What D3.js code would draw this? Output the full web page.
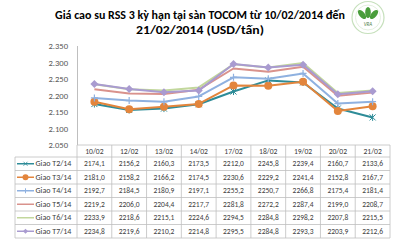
<!DOCTYPE html>
<html><head><meta charset="utf-8">
<script src="https://cdn.jsdelivr.net/npm/d3@7"></script>
<style>
html,body{margin:0;padding:0;background:#fff;}
svg{display:block;font-family:"Carlito","Liberation Sans",Arial,sans-serif;}
</style></head>
<body>
<svg id="c" width="400" height="242"></svg>
<script>
const dates = ["10/02","12/02","13/02","14/02","17/02","18/02","19/02","20/02","21/02"];
const seriesNames = ["Giao T2/14","Giao T3/14","Giao T4/14","Giao T5/14","Giao T6/14","Giao T7/14"];
const t2 = [2174.1,2156.2,2160.3,2173.5,2212.0,2245.8,2239.4,2160.7,2133.6];
const t3 = [2181.0,2158.2,2166.2,2174.5,2230.6,2229.2,2241.4,2152.8,2167.7];
const t4 = [2192.7,2184.5,2180.9,2197.1,2255.2,2250.7,2266.8,2175.4,2181.4];
const t5 = [2219.2,2206.0,2204.4,2217.7,2281.8,2272.2,2287.4,2199.0,2208.7];
const t6 = [2233.9,2218.6,2215.1,2224.6,2294.5,2284.8,2298.2,2207.8,2215.5];
const t7 = [2234.8,2219.6,2210.2,2214.8,2295.5,2284.8,2293.3,2203.9,2212.6];
const yTicks = [2050,2100,2150,2200,2250,2300,2350];
const titleLines = ["Giá cao su RSS 3 kỳ hạn tại sàn TOCOM từ 10/02/2014 đến","21/02/2014 (USD/tấn)"];

const colors = ["#2e8c98","#e3853c","#8fb1e0","#d9928c","#c2d79c","#a99bd0"];
const markers = ["star","circle","plus","none","none","diamond"];
const allSeries = [t2,t3,t4,t5,t6,t7];

const svg = d3.select("#c");
const loc = d3.formatLocale({decimal:",",thousands:".",grouping:[3],currency:["",""]});
const fmtTick = loc.format(",.0f");
const fmtVal = loc.format(".1f");

const L = 77, R = 390, T = 46, B = 145;
const x = d3.scaleBand().domain(dates).range([L,R]).padding(0);
const y = d3.scaleLinear().domain([2050,2350]).range([B,T]);
const cx = d => x(d) + x.bandwidth()/2;

// title
const tl = [{t:titleLines[0],y:19,w:290},{t:titleLines[1],y:34,w:128}];
svg.selectAll("text.title").data(tl).join("text")
  .attr("class","title").attr("x",200).attr("y",d=>d.y)
  .attr("text-anchor","middle").attr("font-weight","bold").attr("font-size",11)
  .attr("fill","#000").attr("textLength",d=>d.w).attr("lengthAdjust","spacingAndGlyphs")
  .text(d=>d.t);

// logo
const logo = svg.append("g").attr("transform","translate(368,17.5)");
logo.append("circle").attr("r",16).attr("fill","#fff").attr("stroke","#c6e0bc").attr("stroke-width",1.2);
logo.append("circle").attr("r",12.5).attr("fill","none").attr("stroke","#dcebd5").attr("stroke-width",0.8);
[[-6,-3,-40],[0,-5,0],[6,-3,40]].forEach(([a,b,r])=>{
  logo.append("ellipse").attr("cx",0).attr("cy",0).attr("rx",2.8).attr("ry",5.5)
    .attr("fill","#4a9d3c").attr("transform",`translate(${a},${b}) rotate(${r})`);
});
logo.append("text").attr("x",0).attr("y",8.5).attr("text-anchor","middle")
  .attr("font-size",5).attr("font-style","italic").attr("fill","#4a7a3c").text("VRA");

// y axis
svg.append("line").attr("x1",L+0.5).attr("x2",L+0.5).attr("y1",T).attr("y2",B)
  .attr("stroke","#bfbfbf").attr("stroke-width",1);
svg.selectAll("text.yt").data(yTicks).join("text").attr("class","yt")
  .attr("x",68).attr("y",d=>y(d)+3).attr("text-anchor","end")
  .attr("font-size",8.6).attr("fill","#595959").text(d=>fmtTick(d));

// lines
const line = d3.line().x((d,i)=>cx(dates[i])).y(d=>y(d));
function drawMarker(g, type, color, px, py){
  if(type==="circle"){
    g.append("circle").attr("cx",px).attr("cy",py).attr("r",4).attr("fill",color);
  } else if(type==="diamond"){
    g.append("path").attr("d",`M${px},${py-4}L${px+4},${py}L${px},${py+4}L${px-4},${py}Z`).attr("fill",color);
  } else if(type==="plus"){
    g.append("path").attr("d",`M${px-3.5},${py}H${px+3.5}M${px},${py-3.5}V${py+3.5}`).attr("stroke",color).attr("stroke-width",1.2);
  } else if(type==="star"){
    g.append("path").attr("d",`M${px-3},${py-3}L${px+3},${py+3}M${px-3},${py+3}L${px+3},${py-3}M${px},${py-3.5}V${py+3.5}`).attr("stroke",color).attr("stroke-width",1);
  }
}
allSeries.forEach((s,k)=>{
  const g = svg.append("g");
  g.append("path").attr("d",line(s)).attr("fill","none").attr("stroke",colors[k])
    .attr("stroke-width",2).attr("stroke-linejoin","round");
  s.forEach((v,i)=>drawMarker(g,markers[k],colors[k],cx(dates[i]),y(v)));
});

// table
const hTop = 145, hBot = 157, rowH = 13.5, legL = 15;
const nRows = seriesNames.length;
const tBot = hBot + rowH*nRows;
const tg = svg.append("g").attr("stroke","#bfbfbf").attr("stroke-width",0.8);
tg.append("line").attr("x1",L).attr("x2",R).attr("y1",hTop).attr("y2",hTop);
d3.range(nRows+1).forEach(i=>{
  const yy = hBot + i*rowH;
  tg.append("line").attr("x1",legL).attr("x2",R).attr("y1",yy).attr("y2",yy);
});
tg.append("line").attr("x1",legL).attr("x2",legL).attr("y1",hBot).attr("y2",tBot);
dates.forEach(d=>{
  tg.append("line").attr("x1",x(d)).attr("x2",x(d)).attr("y1",hTop).attr("y2",tBot);
});
tg.append("line").attr("x1",R).attr("x2",R).attr("y1",hTop).attr("y2",tBot);

svg.selectAll("text.hd").data(dates).join("text").attr("class","hd")
  .attr("x",d=>cx(d)).attr("y",(hTop+hBot)/2+2.8).attr("text-anchor","middle")
  .attr("font-size",7.6).attr("fill","#404040").text(d=>d);

allSeries.forEach((s,k)=>{
  const yc = hBot + rowH*k + rowH/2;
  const g = svg.append("g");
  g.append("line").attr("x1",17).attr("x2",34).attr("y1",yc).attr("y2",yc)
    .attr("stroke",colors[k]).attr("stroke-width",1.5);
  const mk = markers[k];
  if(mk==="circle") g.append("circle").attr("cx",25.5).attr("cy",yc).attr("r",3).attr("fill",colors[k]);
  else if(mk==="diamond") g.append("path").attr("d",`M25.5,${yc-2.5}L28,${yc}L25.5,${yc+2.5}L23,${yc}Z`).attr("fill",colors[k]);
  else if(mk==="plus") g.append("path").attr("d",`M25.5,${yc-2.5}V${yc+2.5}`).attr("stroke",colors[k]).attr("stroke-width",1);
  else if(mk==="star") g.append("path").attr("d",`M23.5,${yc-2}L27.5,${yc+2}M23.5,${yc+2}L27.5,${yc-2}`).attr("stroke",colors[k]).attr("stroke-width",0.8);
  g.append("text").attr("x",35.5).attr("y",yc+2.7).attr("font-size",8).attr("fill","#404040").text(seriesNames[k]);
  s.forEach((v,i)=>{
    g.append("text").attr("x",cx(dates[i])).attr("y",yc+2.7).attr("text-anchor","middle")
      .attr("font-size",7.5).attr("fill","#404040").text(fmtVal(v));
  });
});
</script>
</body></html>
